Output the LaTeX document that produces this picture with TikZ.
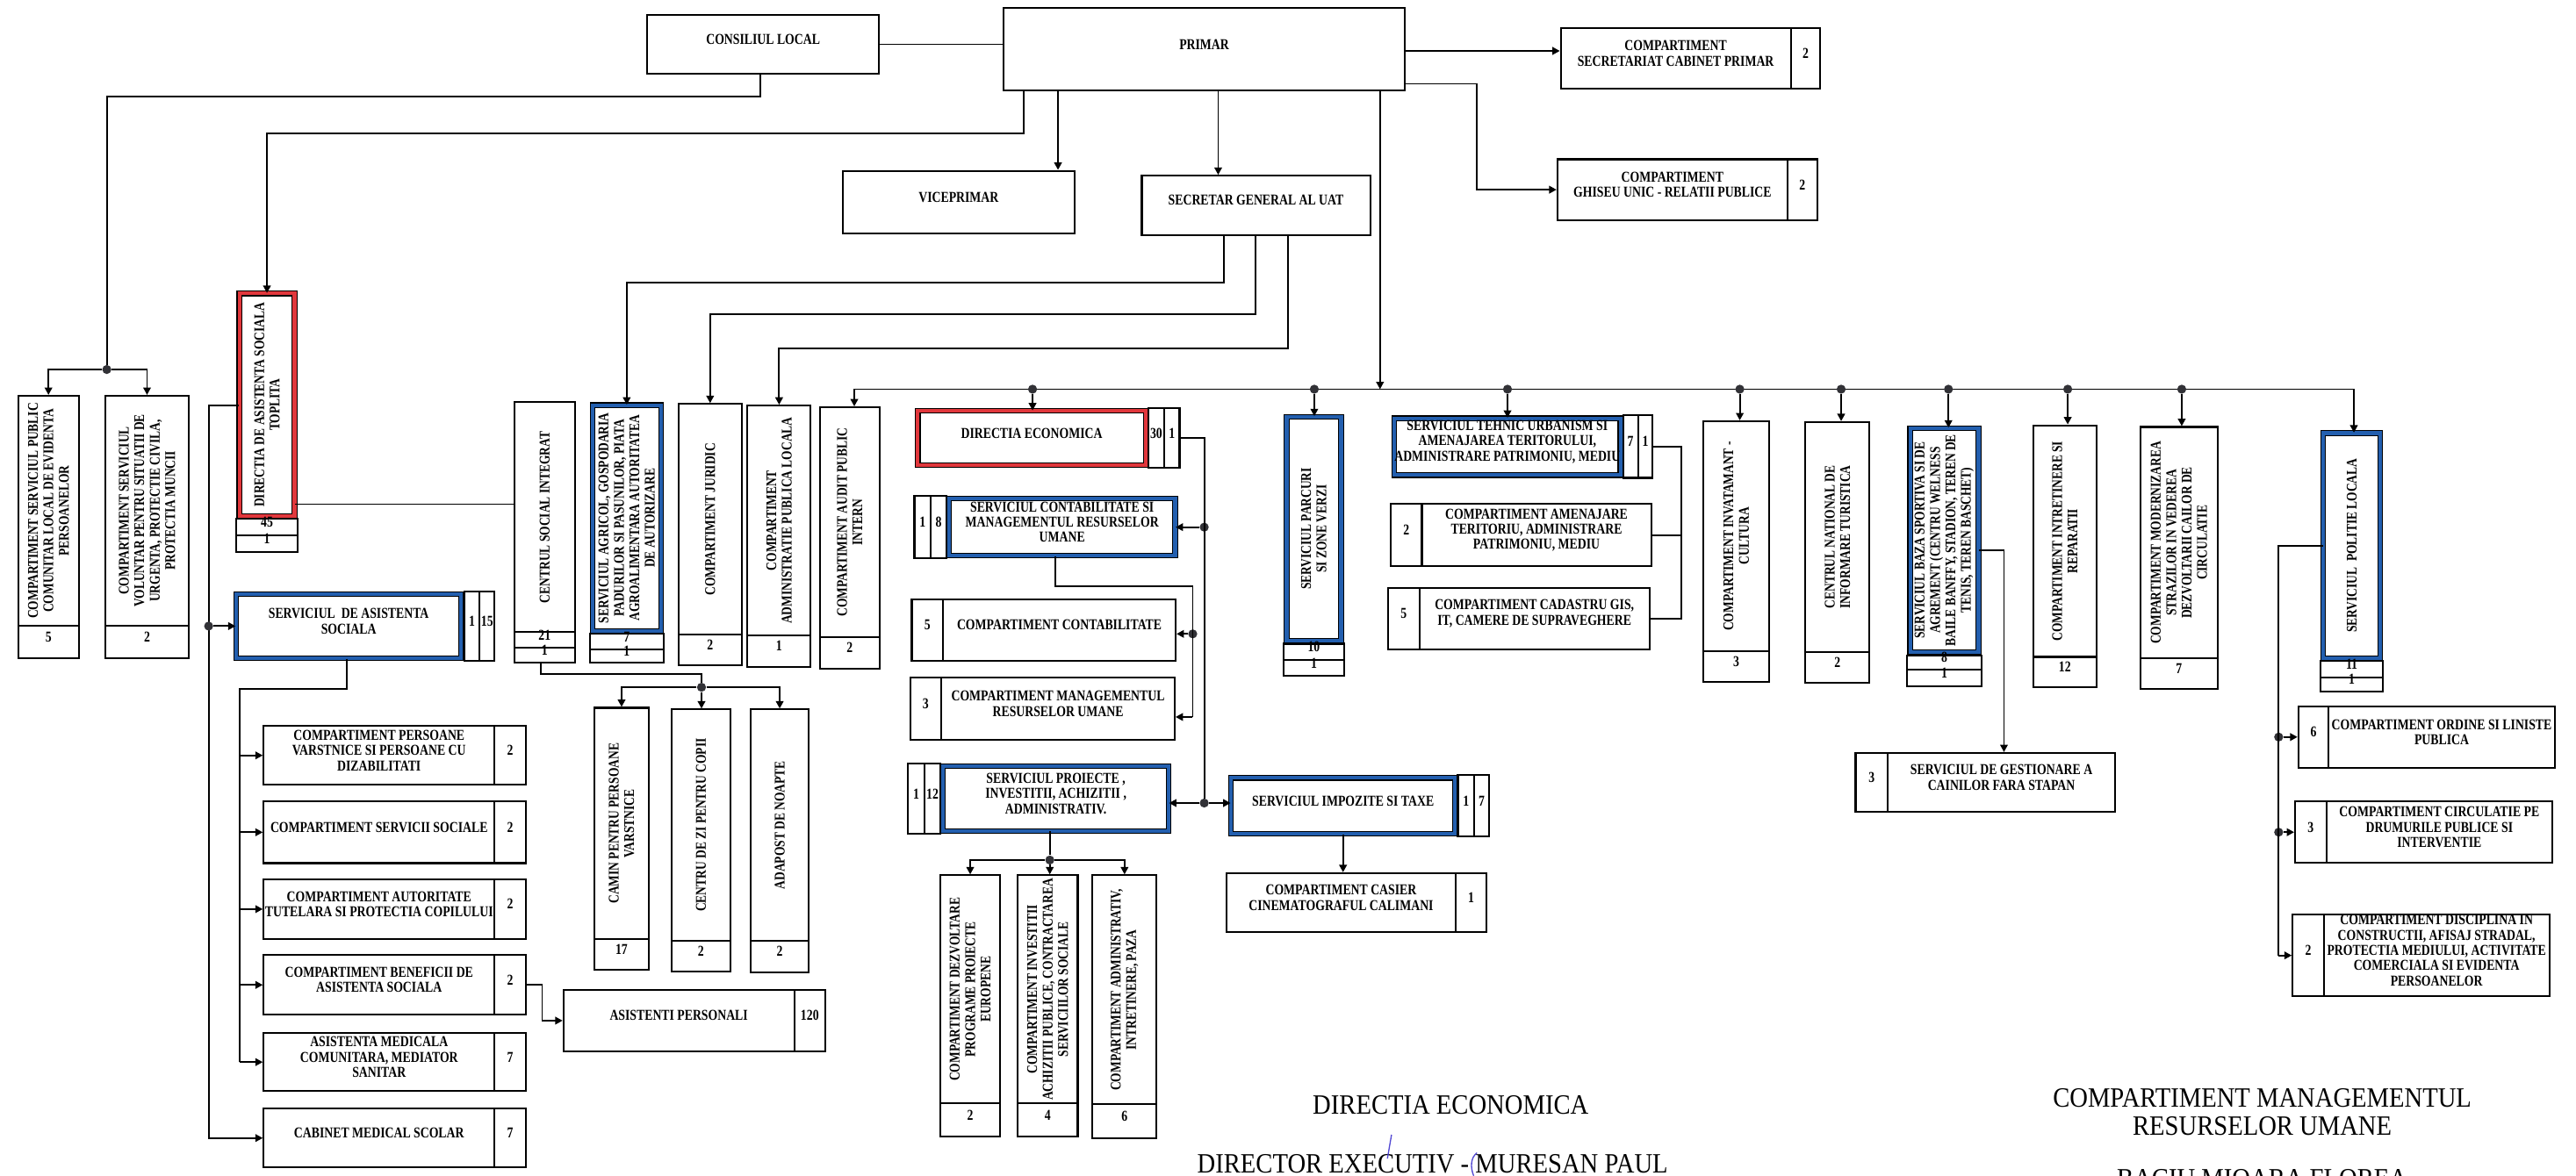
\documentclass[tikz,border=0pt]{standalone}
\usepackage{fontspec}
\newfontfamily\bxf[FakeStretch=0.8]{Liberation Serif}
\newfontfamily\rgf[FakeStretch=0.9]{Liberation Serif}
\usetikzlibrary{arrows.meta,fit}
\definecolor{blueC}{RGB}{35,95,175}
\definecolor{redC}{RGB}{225,55,60}
\definecolor{dotC}{RGB}{50,50,55}
\definecolor{penC}{RGB}{80,70,210}
\newcommand{\bxfont}{\bxf\bfseries\fontsize{9.2}{9.3}\selectfont}
\newcommand{\vxfont}{\bxf\bfseries\fontsize{9}{9.4}\selectfont}
\newcommand{\vlab}[2]{\node[vtx] (#1T) at (#1.center) {#2};}
\begin{document}
\begin{tikzpicture}[x=1pt,y=-1pt,
  bx/.style={draw=black, line width=1.1pt, inner sep=0pt, align=center, font=\bxfont},
  dbx/.style={bx, line width=0.6pt, double distance=2.2pt, inner sep=-1.7pt},
  bluebx/.style={dbx, double=blueC},
  redbx/.style={dbx, double=redC},
  vtx/.style={rotate=90, align=flush center, text width=150pt, inner sep=0pt, font=\vxfont},
  cn/.style={line width=1pt, draw=black},
  ar/.style={cn, -{Triangle[length=4.5pt,width=4.6pt]}},
  jd/.style={circle, fill=dotC, inner sep=0pt, minimum size=5.5pt},
  rg/.style={font=\rgf\fontsize{17}{17}\selectfont, inner sep=0pt, anchor=base}]
\fill[white] (0,0) rectangle (1568,716);
\useasboundingbox (0,0) rectangle (1568,716);

% ---------- top level
\node[bx, fit={(394,9)(535,45)}] (consiliu) {CONSILIUL LOCAL};
\node[bx, fit={(611,5)(855,55)}] (primar) {PRIMAR};
\node[bx, fit={(950,17)(1090,54)}] (secr) {COMPARTIMENT\\SECRETARIAT CABINET PRIMAR};
\node[bx, fit={(1090,17)(1108,54)}] (secrN) {2};
\node[bx, fit={(948,97)(1088,134)}] (ghiseu) {COMPARTIMENT\\GHISEU UNIC - RELATII PUBLICE};
\node[bx, fit={(1088,97)(1106,134)}] (ghiseuN) {2};
\node[bx, fit={(513,104)(654,142)}] (vice) {VICEPRIMAR};
\node[bx, fit={(695,107)(834,143)}] (secretar) {SECRETAR GENERAL AL UAT};

% ---------- left column
\node[bx, fit={(11,241)(48,381)}] (spclep) {};
\vlab{spclep}{COMPARTIMENT SERVICIUL PUBLIC\\COMUNITAR LOCAL DE EVIDENTA\\PERSOANELOR}
\node[bx, fit={(11,381)(48,401)}] (spclepN) {5};
\node[bx, fit={(64,241)(115,381)}] (svsu) {};
\vlab{svsu}{COMPARTIMENT SERVICIUL\\VOLUNTAR PENTRU SITUATII DE\\URGENTA, PROTECTIE CIVILA,\\PROTECTIA MUNCII}
\node[bx, fit={(64,381)(115,401)}] (svsuN) {2};

\node[redbx, fit={(144,177)(181,316)}] (dasoc) {};
\vlab{dasoc}{DIRECTIA DE ASISTENTA SOCIALA\\TOPLITA}
\node[bx, fit={(144,316)(181,326)}] (dasocA) {45};
\node[bx, fit={(144,326)(181,336)}] (dasocB) {1};

\node[bluebx, fit={(142,360)(282.5,402.5)}] (sas) {SERVICIUL\ \ DE ASISTENTA\\SOCIALA};
\node[bx, fit={(282.5,360)(292,402.5)}] (sasA) {1};
\node[bx, fit={(292,360)(301,402.5)}] (sasB) {15};

\node[bx, fit={(160.5,442)(301,478)}] (pv) {COMPARTIMENT PERSOANE\\VARSTNICE SI PERSOANE CU\\DIZABILITATI};
\node[bx, fit={(301,442)(320,478)}] (pvN) {2};
\node[bx, fit={(160.5,488)(301,525.6)}] (ss) {COMPARTIMENT SERVICII SOCIALE};
\node[bx, fit={(301,488)(320,525.6)}] (ssN) {2};
\node[bx, fit={(160.5,535.4)(301,571.8)}] (atpc) {COMPARTIMENT AUTORITATE\\TUTELARA SI PROTECTIA COPILULUI};
\node[bx, fit={(301,535.4)(320,571.8)}] (atpcN) {2};
\node[bx, fit={(160.5,581.5)(301,618)}] (bas) {COMPARTIMENT BENEFICII DE\\ASISTENTA SOCIALA};
\node[bx, fit={(301,581.5)(320,618)}] (basN) {2};
\node[bx, fit={(160.5,629)(301,664.5)}] (amc) {ASISTENTA MEDICALA\\COMUNITARA, MEDIATOR\\SANITAR};
\node[bx, fit={(301,629)(320,664.5)}] (amcN) {7};
\node[bx, fit={(160.5,675)(301,711)}] (cms) {CABINET MEDICAL SCOLAR};
\node[bx, fit={(301,675)(320,711)}] (cmsN) {7};

\node[bx, fit={(343,603)(483.4,640)}] (ap) {ASISTENTI PERSONALI};
\node[bx, fit={(483.4,603)(502.4,640)}] (apN) {120};

\node[bx, fit={(313,245)(350,385)}] (centrul) {};
\vlab{centrul}{CENTRUL SOCIAL INTEGRAT}
\node[bx, fit={(313,385)(350,394.5)}] (centrulA) {21};
\node[bx, fit={(313,394.5)(350,403.5)}] (centrulB) {1};

\node[bx, fit={(362,431)(394.7,571.8)}] (camin) {};
\vlab{camin}{CAMIN PENTRU PERSOANE\\VARSTNICE}
\node[bx, fit={(362,571.8)(394.7,590.5)}] (caminN) {17};
\node[bx, fit={(409,432)(444.4,572.8)}] (czc) {};
\vlab{czc}{CENTRU DE ZI PENTRU COPII}
\node[bx, fit={(409,572.8)(444.4,591.6)}] (czcN) {2};
\node[bx, fit={(457,432)(492.2,573)}] (adapost) {};
\vlab{adapost}{ADAPOST DE NOAPTE}
\node[bx, fit={(457,573)(492.2,592)}] (adapostN) {2};

\node[bluebx, fit={(359,245)(404,386)}] (sagr) {};
\vlab{sagr}{SERVICIUL AGRICOL, GOSPODARIA\\PADURILOR SI PASUNILOR, PIATA\\AGROALIMENTARA AUTORITATEA\\DE AUTORIZARE}
\node[bx, fit={(359,386)(404,395.5)}] (sagrA) {7};
\node[bx, fit={(359,395.5)(404,403.5)}] (sagrB) {1};

\node[bx, fit={(413,246)(451.5,386.5)}] (jur) {};
\vlab{jur}{COMPARTIMENT JURIDIC}
\node[bx, fit={(413,386.5)(451.5,405)}] (jurN) {2};
\node[bx, fit={(455,247)(493.5,387)}] (apl) {};
\vlab{apl}{COMPARTIMENT\\ADMINISTRATIE PUBLICA LOCALA}
\node[bx, fit={(455,387)(493.5,406)}] (aplN) {1};
\node[bx, fit={(499,248)(535.5,388)}] (audit) {};
\vlab{audit}{COMPARTIMENT AUDIT PUBLIC\\INTERN}
\node[bx, fit={(499,388)(535.5,407)}] (auditN) {2};

% ---------- directia economica
\node[redbx, fit={(557,248.5)(699,285)}] (decon) {DIRECTIA ECONOMICA};
\node[bx, fit={(699,248.5)(708.6,285)}] (deconA) {30};
\node[bx, fit={(708.6,248.5)(718,285)}] (deconB) {1};

\node[bx, fit={(556.6,302)(566.6,340)}] (scmruA) {1};
\node[bx, fit={(566.6,302)(576,340)}] (scmruB) {8};
\node[bluebx, fit={(576,302)(717,340)}] (scmru) {SERVICIUL CONTABILITATE SI\\MANAGEMENTUL RESURSELOR\\UMANE};

\node[bx, fit={(555,365)(574,402.5)}] (contabN) {5};
\node[bx, fit={(574,365)(715.6,402.5)}] (contab) {COMPARTIMENT CONTABILITATE};
\node[bx, fit={(554,412.5)(573,450.6)}] (cmruN) {3};
\node[bx, fit={(573,412.5)(715,450.6)}] (cmru) {COMPARTIMENT MANAGEMENTUL\\RESURSELOR UMANE};

\node[bx, fit={(552.6,465)(562.7,507.7)}] (spiaaA) {1};
\node[bx, fit={(562.7,465)(572.4,507.7)}] (spiaaB) {12};
\node[bluebx, fit={(572.4,465)(713,507.7)}] (spiaa) {SERVICIUL PROIECTE ,\\INVESTITII, ACHIZITII ,\\ADMINISTRATIV.};

\node[bluebx, fit={(747.6,472)(887.4,509.4)}] (impoz) {SERVICIUL IMPOZITE SI TAXE};
\node[bx, fit={(887.4,472)(897.4,509.4)}] (impozA) {1};
\node[bx, fit={(897.4,472)(906.4,509.4)}] (impozB) {7};
\node[bx, fit={(746.6,531.7)(886,567.5)}] (casier) {COMPARTIMENT CASIER\\CINEMATOGRAFUL CALIMANI};
\node[bx, fit={(886,531.7)(905,567.5)}] (casierN) {1};

\node[bx, fit={(572.4,533)(608.7,672)}] (cdppe) {};
\vlab{cdppe}{COMPARTIMENT DEZVOLTARE\\PROGRAME PROIECTE\\EUROPENE}
\node[bx, fit={(572.4,672)(608.7,692)}] (cdppeN) {2};
\node[bx, fit={(619.5,533)(656,672)}] (ciap) {};
\vlab{ciap}{COMPARTIMENT INVESTITII\\ACHIZITII PUBLICE, CONTRACTAREA\\SERVICIILOR SOCIALE}
\node[bx, fit={(619.5,672)(656,692)}] (ciapN) {4};
\node[bx, fit={(665,533)(704,672.5)}] (cap) {};
\vlab{cap}{COMPARTIMENT ADMINISTRATIV,\\INTRETINERE, PAZA}
\node[bx, fit={(665,672.5)(704,693)}] (capN) {6};

% ---------- right part
\node[bluebx, fit={(781.5,252)(818,392)}] (parcuri) {};
\vlab{parcuri}{SERVICIUL PARCURI\\SI ZONE VERZI}
\node[bx, fit={(781.5,392)(818,402)}] (parcuriA) {10};
\node[bx, fit={(781.5,402)(818,411.5)}] (parcuriB) {1};

\node[bluebx, fit={(847,253)(988,291)}] (tehnic) {SERVICIUL TEHNIC URBANISM SI\\AMENAJAREA TERITORULUI,\\ADMINISTRARE PATRIMONIU, MEDIU};
\node[bx, fit={(988,253)(997,291)}] (tehnicA) {7};
\node[bx, fit={(997,253)(1006,291)}] (tehnicB) {1};
\node[bx, fit={(846.5,307)(865.5,344.7)}] (amenajN) {2};
\node[bx, fit={(865.5,307)(1005,344.7)}] (amenaj) {COMPARTIMENT AMENAJARE\\TERITORIU, ADMINISTRARE\\PATRIMONIU, MEDIU};
\node[bx, fit={(845,358)(864,395.5)}] (cadN) {5};
\node[bx, fit={(864,358)(1004,395.5)}] (cadastru) {COMPARTIMENT CADASTRU GIS,\\IT, CAMERE DE SUPRAVEGHERE};

\node[bx, fit={(1037,256.5)(1076.6,396.5)}] (invat) {};
\vlab{invat}{COMPARTIMENT INVATAMANT -\\CULTURA}
\node[bx, fit={(1037,396.5)(1076.6,415)}] (invatN) {3};
\node[bx, fit={(1099,257)(1138,397)}] (cnit) {};
\vlab{cnit}{CENTRUL NATIONAL DE\\INFORMARE TURISTICA}
\node[bx, fit={(1099,397)(1138,416)}] (cnitN) {2};

\node[bluebx, fit={(1161,259)(1206,399)}] (baza) {};
\vlab{baza}{SERVICIUL BAZA SPORTIVA SI DE\\AGREMENT (CENTRU WELNESS\\BAILE BANFFY, STADION, TEREN DE\\TENIS, TEREN BASCHET)}
\node[bx, fit={(1161,399)(1206,408)}] (bazaA) {8};
\node[bx, fit={(1161,408)(1206,418)}] (bazaB) {1};
\node[bx, fit={(1129.5,458.5)(1149,494.5)}] (gestN) {3};
\node[bx, fit={(1149,458.5)(1287.5,494.5)}] (gest) {SERVICIUL DE GESTIONARE A\\CAINILOR FARA STAPAN};

\node[bx, fit={(1237.7,259)(1276,400)}] (intret) {};
\vlab{intret}{COMPARTIMENT INTRETINERE SI\\REPARATII}
\node[bx, fit={(1237.7,400)(1276,418.6)}] (intretN) {12};
\node[bx, fit={(1302.7,260)(1350,401)}] (modern) {};
\vlab{modern}{COMPARTIMENT MODERNIZAREA\\STRAZILOR IN VEDEREA\\DEZVOLTARII CAILOR DE\\CIRCULATIE}
\node[bx, fit={(1302.7,401)(1350,419.5)}] (modernN) {7};

\node[bluebx, fit={(1412.5,262)(1450.5,402.5)}] (politie) {};
\vlab{politie}{SERVICIUL\ \ POLITIE LOCALA}
\node[bx, fit={(1412.5,402.5)(1450.5,412.4)}] (politieA) {11};
\node[bx, fit={(1412.5,412.4)(1450.5,421)}] (politieB) {1};

\node[bx, fit={(1399,430)(1417.5,467.6)}] (ordN) {6};
\node[bx, fit={(1417.5,430)(1555,467.6)}] (ord) {COMPARTIMENT ORDINE SI LINISTE\\PUBLICA};
\node[bx, fit={(1397,488)(1416,525.5)}] (circN) {3};
\node[bx, fit={(1416,488)(1553.6,525.5)}] (circ) {COMPARTIMENT CIRCULATIE PE\\DRUMURILE PUBLICE SI\\INTERVENTIE};
\node[bx, fit={(1395.5,557)(1414.5,606.6)}] (discN) {2};
\node[bx, fit={(1414.5,557)(1551.7,606.6)}] (disc) {COMPARTIMENT DISCIPLINA IN\\CONSTRUCTII, AFISAJ STRADAL,\\PROTECTIA MEDIULUI, ACTIVITATE\\COMERCIALA SI EVIDENTA\\PERSOANELOR};

% ---------- connectors
\draw[cn] (consiliu.east) -- (consiliu.east -| primar.west);
\coordinate (cA) at (463,59);
\coordinate (cB) at (65,59);
\node[jd] (j1) at (65,225) {};
\draw[cn] (consiliu.south -| cA) -- (cA) -- (cB) -- (j1);
\draw[ar] (j1) -| (spclep.north);
\draw[ar] (j1) -| (svsu.north);

\coordinate (pA) at (623,81);
\draw[ar] (primar.south -| pA) -- (pA) -- (pA -| dasoc.north) -- (dasoc.north);
\coordinate (pV) at (644,80);
\draw[ar] (primar.south -| pV) -- (vice.north -| pV);
\coordinate (pS) at (741.5,80);
\draw[ar] (primar.south -| pS) -- (secretar.north -| pS);
\coordinate (pC) at (900,31);
\draw[ar] (primar.east |- pC) -- (secr.west |- pC);
\coordinate (pD) at (899,51);
\draw[ar] (primar.east |- pD) -- (pD) |- (ghiseu.west);

\coordinate (busL) at (520,237);
\coordinate (busR) at (1432.8,237);
\coordinate (pB) at (840,237);
\draw[cn] (busL) -- (busR);
\draw[ar] (primar.south -| pB) -- (pB);
\draw[ar] (busL) -- (audit.north -| busL);
\draw[ar] (busR) -- (politie.north -| busR);

\coordinate (sA) at (745,172);
\draw[ar] (secretar.south -| sA) -- (sA) -- (sA -| sagr.north) -- (sagr.north);
\coordinate (sB) at (764,191.5);
\draw[ar] (secretar.south -| sB) -- (sB) -- (sB -| jur.north) -- (jur.north);
\coordinate (sC) at (784,212);
\draw[ar] (secretar.south -| sC) -- (sC) -- (sC -| apl.north) -- (apl.north);

\coordinate (dA) at (127,247);
\draw[ar] (dasoc.west |- dA) -- (dA) |- (cms.west);
\node[jd] (j3) at (127,381.25) {};
\draw[ar] (j3) -- (sas.west);
\coordinate (dB) at (181,307);
\draw[cn] (dasoc.east |- dB) -- (centrul.west |- dB);

\coordinate (aA) at (211,419.5);
\coordinate (aB) at (146,419.5);
\draw[cn] (sas.south -| aA) -- (aA) -- (aB) -- (aB |- amc.west);
\foreach \n in {pv,ss,atpc,bas,amc} \draw[ar] (aB |- \n.west) -- (\n.west);
\coordinate (aC) at (330,599.75);
\draw[ar] (basN.east) -- (aC) |- (ap.west);

\coordinate (cC) at (329,410.5);
\coordinate (cD) at (427,410.5);
\node[jd] (j9) at (427,418.5) {};
\draw[cn] (centrulB.south -| cC) -- (cC) -- (cD) -- (j9);
\draw[ar] (j9) -| (camin.north);
\draw[ar] (j9) -- (j9 |- czc.north);
\draw[ar] (j9) -| (adapost.north);

\node[jd] (b1) at (628.5,237) {};
\draw[ar] (b1) -- (b1 |- decon.north);
\coordinate (eA) at (733,266.75);
\node[jd] (je1) at (733,321) {};
\node[jd] (je2) at (733,489) {};
\draw[cn] (deconB.east) -- (eA) -- (je2);
\draw[ar] (je1) -- (je1 -| scmru.east);
\draw[ar] (je2) -- (je2 -| spiaa.east);
\draw[ar] (je2) -- (je2 -| impoz.west);
\coordinate (eB) at (642.5,357);
\coordinate (eC) at (726,357);
\node[jd] (je3) at (726,386) {};
\coordinate (eD) at (726,436.6);
\draw[cn] (scmru.south -| eB) -- (eB) -- (eC) -- (eD);
\draw[ar] (je3) -- (je3 -| contab.east);
\draw[ar] (eD) -- (eD -| cmru.east);
\node[jd] (je4) at (639,523.7) {};
\draw[cn] (spiaa.south -| je4) -- (je4);
\draw[ar] (je4) -| (cdppe.north);
\draw[ar] (je4) -- (je4 |- ciap.north);
\draw[ar] (je4) -| (cap.north);
\draw[ar] (impoz.south) -- (impoz.south |- casier.north);

\node[jd] (b2) at (800,237) {}; \draw[ar] (b2) -- (b2 |- parcuri.north);
\node[jd] (b3) at (917.6,237) {}; \draw[ar] (b3) -- (b3 |- tehnic.north);
\node[jd] (b4) at (1059,237) {}; \draw[ar] (b4) -- (b4 |- invat.north);
\node[jd] (b5) at (1120.7,237) {}; \draw[ar] (b5) -- (b5 |- cnit.north);
\node[jd] (b6) at (1186,237) {}; \draw[ar] (b6) -- (b6 |- baza.north);
\node[jd] (b7) at (1258.6,237) {}; \draw[ar] (b7) -- (b7 |- intret.north);
\node[jd] (b8) at (1328,237) {}; \draw[ar] (b8) -- (b8 |- modern.north);

\coordinate (tA) at (1023.5,272);
\draw[cn] (tehnicB.east) -- (tA) |- (cadastru.east);
\draw[cn] (amenaj.east) -- (amenaj.east -| tA);

\coordinate (gA) at (1219.8,335);
\draw[ar] (baza.east |- gA) -- (gA) -- (gA |- gest.north);

\coordinate (qA) at (1387,332.25);
\node[jd] (jq1) at (1387,448.8) {};
\node[jd] (jq2) at (1387,506.75) {};
\draw[cn] (politie.west) -- (qA) -- (qA |- discN.west);
\draw[ar] (jq1) -- (ordN.west);
\draw[ar] (jq2) -- (circN.west);
\draw[ar] (qA |- discN.west) -- (discN.west);

% ---------- bottom texts
\node[rg] (t1) at (883,678.7) {DIRECTIA ECONOMICA};
\node[rg] (t2) at (872,714.4) {DIRECTOR EXECUTIV - MURESAN PAUL};
\node[rg] (t3) at (1377,674.3) {COMPARTIMENT MANAGEMENTUL};
\node[rg] (t4) at (1377,691.2) {RESURSELOR UMANE};
\node[rg] (t5) at (1377,723.3) {BACIU MIOARA FLOREA};
\draw[penC, line width=0.7pt] (847,691) -- (844.5,705.5);
\draw[penC, line width=0.7pt] (899,702) .. controls (895,705) and (895,711) .. (897,716);
\end{tikzpicture}
\end{document}
